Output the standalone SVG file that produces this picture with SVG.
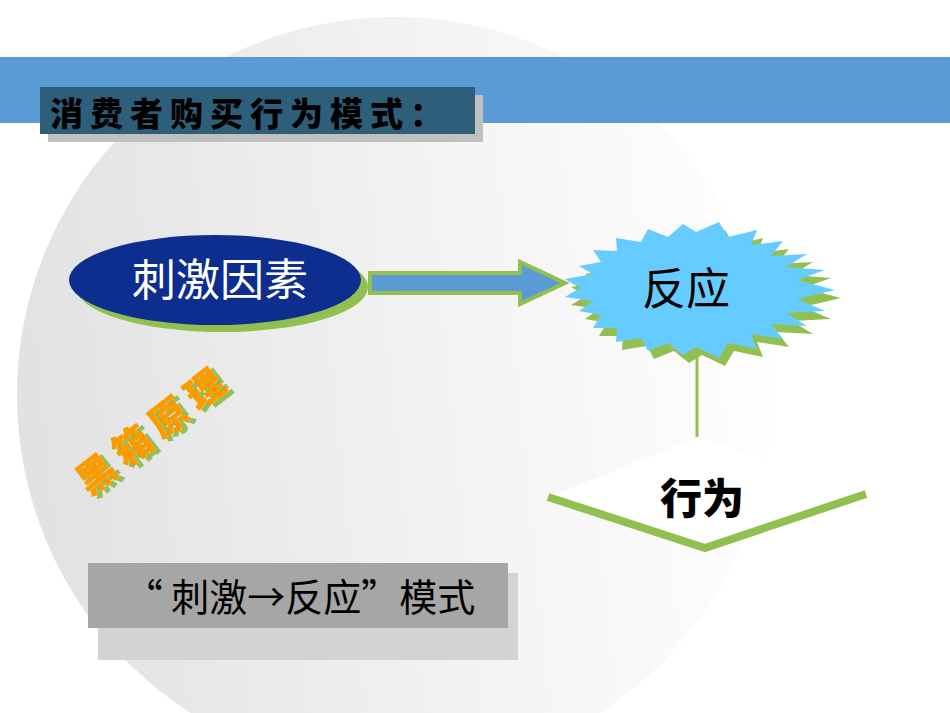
<svg xmlns="http://www.w3.org/2000/svg" width="950" height="713" viewBox="0 0 950 713">
<defs>
<linearGradient id="bg" x1="0" y1="0.3" x2="1" y2="0.2"><stop offset="0" stop-color="#e2e2e2"/><stop offset="0.55" stop-color="#f3f3f3"/><stop offset="1" stop-color="#ffffff"/></linearGradient>
<style>
.cjk{font-family:"Noto Sans CJK SC","Noto Sans CJK JP",sans-serif}
</style>
</defs>
<rect width="950" height="713" fill="#fff"/>
<circle cx="395" cy="395" r="378" fill="url(#bg)"/>
<rect x="0" y="57" width="950" height="66" fill="#5B9BD5"/>
<g id="title">
<rect x="48" y="95" width="435" height="47" fill="#c0c0c0"/>
<rect x="40" y="87" width="435" height="47" fill="#2E5F7A"/>
<text x="50" y="126" class="cjk" font-size="33" font-weight="900" fill="#000" letter-spacing="7">消费者购买行为模式：</text>
</g>
<g id="connectors">
<path d="M370,273 L520,273 L520,262 L565,283 L520,304 L520,293 L370,293 Z" fill="#5B9BD5" stroke="#92C050" stroke-width="4"/>
<line x1="697" y1="345" x2="697" y2="437" stroke="#92C050" stroke-width="3"/>
</g>
<g id="stimulus">
<ellipse cx="222" cy="287" rx="146" ry="45" fill="#92C050"/>
<ellipse cx="215" cy="280" rx="146" ry="45" fill="#0D2E8E"/>
<text x="220" y="296" text-anchor="middle" class="cjk" font-size="44" fill="#fff">刺激因素</text>
</g>
<g id="response">
<polygon transform="translate(6,8)" fill="#92C050" points="835,290 797,299 825,311 786,313 807,326 771,324 783,339 751,334 757,349 728,343 719,358 696,347 683,355 668,343 648,351 641,338 616,342 617,328 593,328 601,315 579,311 593,301 565,297 580,288 565,279 593,274 579,266 601,262 593,250 617,251 616,238 641,242 648,229 668,237 683,224 696,232 719,222 728,237 757,230 751,245 783,241 771,256 807,254 786,267 825,270 797,280"/>
<polygon fill="#66CCFF" points="835,290 797,299 825,311 786,313 807,326 771,324 783,339 751,334 757,349 728,343 719,358 696,347 683,355 668,343 648,351 641,338 616,342 617,328 593,328 601,315 579,311 593,301 565,297 580,288 565,279 593,274 579,266 601,262 593,250 617,251 616,238 641,242 648,229 668,237 683,224 696,232 719,222 728,237 757,230 751,245 783,241 771,256 807,254 786,267 825,270 797,280"/>
<text x="686" y="305" text-anchor="middle" class="cjk" font-size="44" fill="#000">反应</text>
</g>
<g id="behavior">
<polygon points="548,497 700,437 868,497 705,548" fill="#fff"/>
<polyline points="548,497 705,548 866,494" fill="none" stroke="#92C050" stroke-width="8"/>
<text x="702" y="514" text-anchor="middle" class="cjk" font-size="42" font-weight="900" fill="#000">行为</text>
</g>
<g id="blackbox" transform="translate(162,440) rotate(-38)">
<text x="3" y="5" text-anchor="middle" class="cjk" font-size="38" font-weight="900" fill="#92C050" letter-spacing="8">黑箱原理</text>
<text x="0" y="0" text-anchor="middle" class="cjk" font-size="38" font-weight="900" fill="#FF9900" letter-spacing="8">黑箱原理</text>
</g>
<g id="model">
<rect x="98" y="573" width="420" height="87" fill="#d3d3d3"/>
<rect x="88" y="563" width="420" height="65" fill="#A6A6A6"/>
<text x="300" y="611" text-anchor="middle" class="cjk" font-size="38" fill="#000">“ 刺激→反应”模式</text>
</g>
</svg>
